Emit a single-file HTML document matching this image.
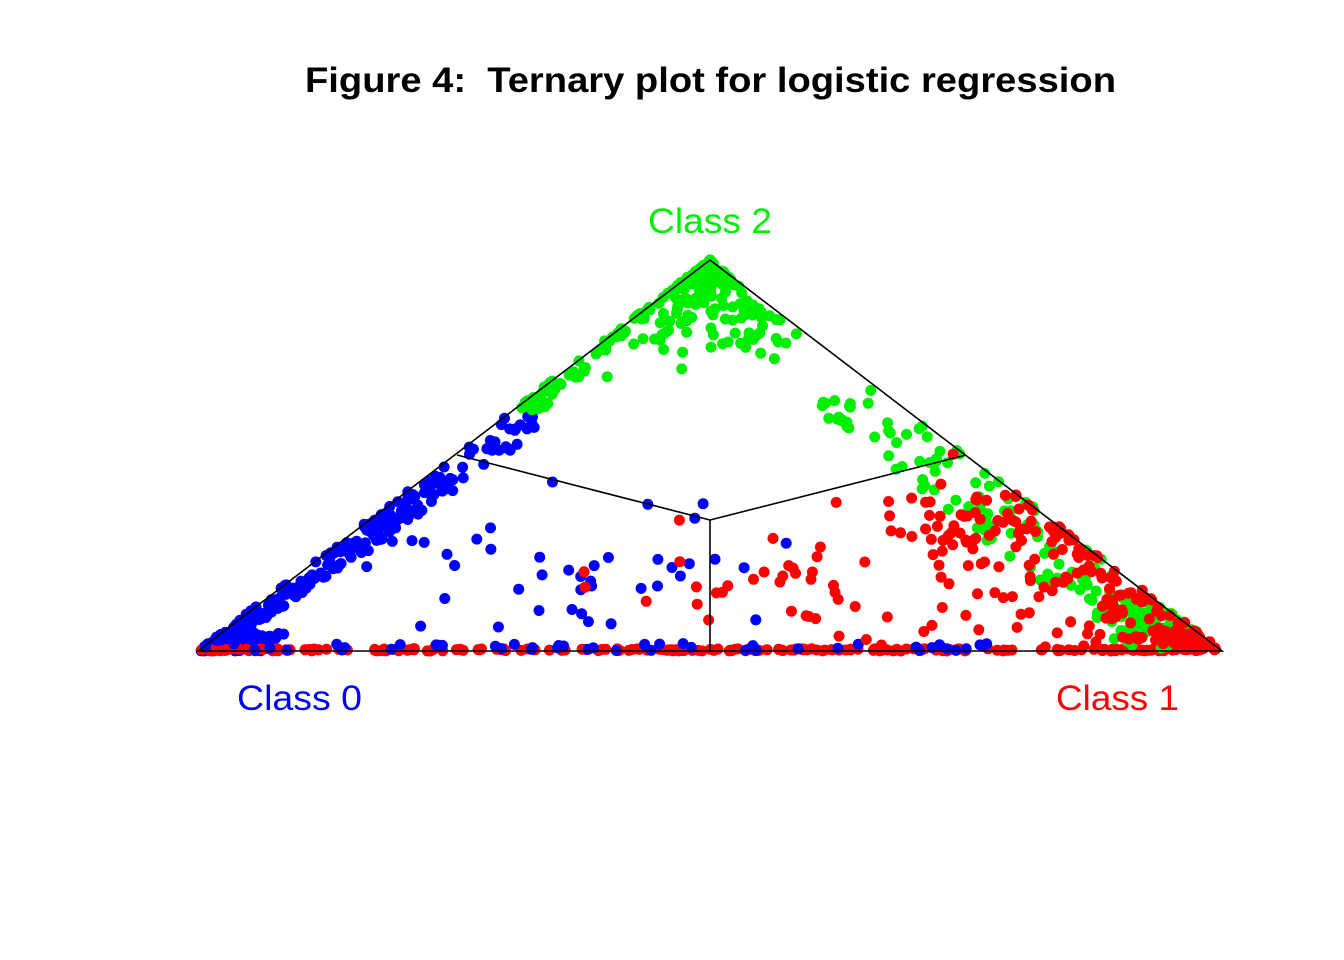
<!DOCTYPE html>
<html><head><meta charset="utf-8"><style>
html,body{margin:0;padding:0;background:#fff;}
svg{display:block;}
</style></head><body>
<svg id="s" width="1344" height="960" xmlns="http://www.w3.org/2000/svg">
<rect width="1344" height="960" fill="#fff"/>
<text x="305" y="92" textLength="811" lengthAdjust="spacingAndGlyphs" font-family="Liberation Sans, sans-serif" font-weight="bold" font-size="35" xml:space="preserve">Figure 4:  Ternary plot for logistic regression</text>
<text x="648" y="233" textLength="124" lengthAdjust="spacingAndGlyphs" font-family="Liberation Sans, sans-serif" font-size="35" fill="#00ee00">Class 2</text>
<text x="237" y="710" textLength="125" lengthAdjust="spacingAndGlyphs" font-family="Liberation Sans, sans-serif" font-size="35" fill="#0000ff">Class 0</text>
<text x="1056" y="710" textLength="123" lengthAdjust="spacingAndGlyphs" font-family="Liberation Sans, sans-serif" font-size="35" fill="#ff0000">Class 1</text>
<g id="dots"></g>
<g stroke="#000" stroke-width="1.6" fill="none">
<polygon points="198,651 1222,651 710,260"/>
<line x1="710" y1="520" x2="710" y2="651"/>
<line x1="710" y1="520" x2="457" y2="455"/>
<line x1="710" y1="520" x2="966" y2="455"/>
</g>
</svg>
<script>
(function(){
var seed=12345;function r(){seed=(seed*1103515245+12345)%2147483648;return seed/2147483648;}
var A=[198,651],B=[1222,651],C=[710,260];
var g=document.getElementById('dots'),out='';
function pt(a,b,c,col){var s=a+b+c;a/=s;b/=s;c/=s;var x=a*A[0]+b*B[0]+c*C[0],y=a*A[1]+b*B[1]+c*C[1];out+='<circle cx="'+x.toFixed(1)+'" cy="'+y.toFixed(1)+'" r="5.5" fill="'+col+'"/>';}
var BL='#0000ff',RD='#ff0000',GR='#00ee00',i,t;
for(i=0;i<240;i++){t=Math.pow(r(),1.6)*0.62;pt(1-t,r()*0.02*(1+t*3),t,BL);}
for(i=0;i<60;i++){pt(1,r()*0.07,r()*0.05,BL);}
for(i=0;i<220;i++){t=r();pt(1-t,t,r()*0.006,RD);}
for(i=0;i<45;i++){t=r()*0.8;pt(1-t,t,r()*0.02,BL);}
for(i=0;i<80;i++){t=0.62+0.38*r();pt((1-t),(1-t)*r()*0.08,t,GR);}
for(i=0;i<170;i++){t=0.68+0.32*Math.sqrt(r());var s=0.15+r()*0.8;pt((1-t)*(1-s),(1-t)*s,t,GR);}
for(i=0;i<130;i++){t=r()*0.7;pt(r()*0.1,1-t,t,GR);}
for(i=0;i<45;i++){pt(r()*0.07,1,0.04+r()*0.1,GR);}
for(i=0;i<160;i++){var c=r()*0.4,a=r()*0.22*r();pt(a,1-c-a,c,RD);}
for(i=0;i<80;i++){pt(r()*0.04,1,r()*0.06,RD);}
for(i=0;i<50;i++){pt(0.3+r()*0.6,r()*0.6,r()*0.4,BL);}
for(i=0;i<60;i++){pt(r()*0.6,0.3+r()*0.6,r()*0.38,RD);}
g.innerHTML=out;
})();
</script>
</body></html>
